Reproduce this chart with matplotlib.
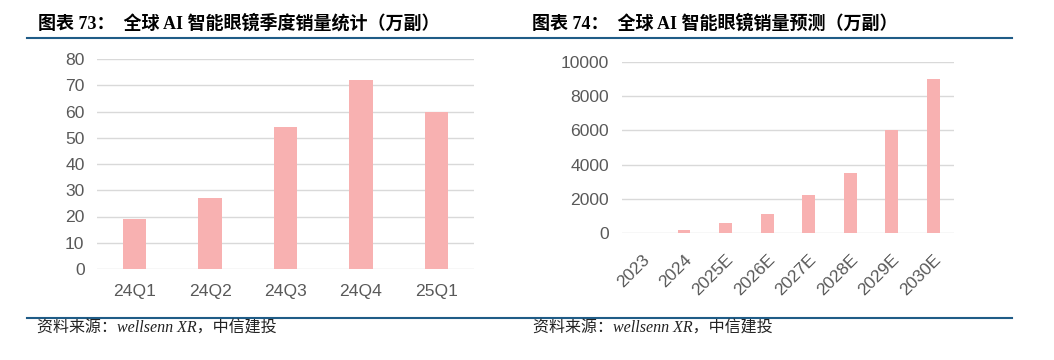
import matplotlib
matplotlib.use("Agg")
import matplotlib.pyplot as plt
from matplotlib.lines import Line2D

# ---- data ----
quarters = ["24Q1", "24Q2", "24Q3", "24Q4", "25Q1"]
quarter_sales = [19, 27, 54, 72, 60]

years = ["2023", "2024", "2025E", "2026E", "2027E", "2028E", "2029E", "2030E"]
year_sales = [0, 150, 550, 1100, 2200, 3500, 6000, 9000]

title_left = "图表 73：  全球 AI 智能眼镜季度销量统计（万副）"
title_right = "图表 74：  全球 AI 智能眼镜销量预测（万副）"
source_text = "资料来源：wellsenn XR，中信建投"

W, H = 1054, 360
BAR = "#F8B1B1"
GRID = "#D9D9D9"
TICK = "#595959"
RULE = "#1F5C87"
SANS = ["Liberation Sans", "Noto Sans CJK SC"]
SERIF = ["Liberation Serif", "Noto Sans CJK SC"]
TS = 12.6

fig = plt.figure(figsize=(W / 100, H / 100), dpi=100)
fig.patch.set_facecolor("white")


def px_axes(x0, x1, ytop, ybot):
    return fig.add_axes([x0 / W, 1 - ybot / H, (x1 - x0) / W, (ybot - ytop) / H])


def style(ax, ymax, step):
    ax.set_ylim(0, ymax)
    ax.set_yticks(range(0, ymax + 1, step))
    ax.yaxis.grid(True, color=GRID, linewidth=1.0)
    ax.set_axisbelow(True)
    for s in ax.spines.values():
        s.set_visible(False)
    ax.tick_params(length=0, labelsize=TS, colors=TICK)
    ax.tick_params(axis="y", pad=9)
    for lab in ax.get_xticklabels() + ax.get_yticklabels():
        lab.set_family(SANS)


# Left chart
ax1 = px_axes(97, 474, 59, 269)
x1 = range(len(quarters))
ax1.bar(x1, quarter_sales, width=0.31, color=BAR, zorder=3)
ax1.set_xlim(-0.5, len(quarters) - 0.5)
ax1.set_xticks(list(x1))
ax1.set_xticklabels(quarters)
style(ax1, 80, 10)
ax1.tick_params(axis="x", pad=11)
for lab in ax1.get_xticklabels():
    lab.set_family(SANS)

# Right chart
ax2 = px_axes(621.7, 954, 62.3, 232.7)
x2 = range(len(years))
ax2.bar(x2, year_sales, width=0.31, color=BAR, zorder=3)
ax2.set_xlim(-0.5, len(years) - 0.5)
ax2.set_xticks(list(x2))
ax2.set_xticklabels(years, rotation=45, ha="right", rotation_mode="anchor")
style(ax2, 10000, 2000)
ax2.tick_params(axis="x", pad=14)
for lab in ax2.get_xticklabels():
    lab.set_family(SANS)

# Titles
fig.text(38 / W, 1 - 23.5 / H, title_left, family=SERIF, fontweight="bold",
         fontsize=13, va="center", ha="left", color="black")
fig.text(532 / W, 1 - 23.5 / H, title_right, family=SERIF, fontweight="bold",
         fontsize=13, va="center", ha="left", color="black")

# Rules
for y in (37.5, 317.5):
    fig.add_artist(Line2D([27 / W, 1012 / W], [1 - y / H, 1 - y / H],
                          transform=fig.transFigure, color=RULE, linewidth=1.5))

# Sources
fig.text(37 / W, 1 - 329 / H, source_text, family=SERIF, fontstyle="italic",
         fontsize=11.5, va="center", ha="left", color="#222222")
fig.text(533 / W, 1 - 329 / H, source_text, family=SERIF, fontstyle="italic",
         fontsize=11.5, va="center", ha="left", color="#222222")

fig.savefig("out.png", dpi=100, facecolor="white")
